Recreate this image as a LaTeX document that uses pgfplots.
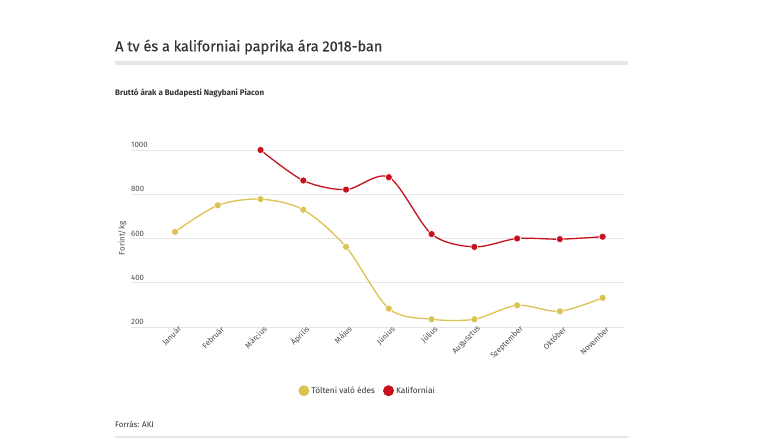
\documentclass[border=0pt]{standalone}
\usepackage{pgfplots}
\pgfplotsset{compat=1.18}
\usepackage{fontspec}
\setmainfont{Fira Sans}
\newfontfamily\titlefont{Fira Sans}[FakeBold=0.4]
\definecolor{yel}{HTML}{DCC250}
\definecolor{red1}{HTML}{C8101E}
\definecolor{txt}{HTML}{333333}
\definecolor{lab}{HTML}{4D4D4D}
\definecolor{rule}{HTML}{E6E6E6}
\begin{document}
\begin{tikzpicture}[x=1pt,y=1pt]
\path[use as bounding box] (0,0) rectangle (760,439);
\fill[white] (0,0) rectangle (760,439);
\node[anchor=west, inner sep=0pt, text=txt, font=\fontsize{14.5}{18}\titlefont] at (115,392) {A tv és a kaliforniai paprika ára 2018-ban};
\draw[rule, line width=4pt] (115,376) -- (628,376);
\node[anchor=west, inner sep=0pt, text=txt, font=\fontsize{8}{10}\selectfont\bfseries] at (115,346) {Bruttó árak a Budapesti Nagybani Piacon};
\node[anchor=west, inner sep=0pt, text=txt, font=\fontsize{8}{10}\selectfont] at (115,15) {Forrás: AKI};
\draw[rule, line width=1.5pt] (115,2) -- (628,2);
\begin{axis}[
  at={(131pt,112pt)}, anchor=south west,
  scale only axis, width=493pt, height=177pt,
  xmin=-1.03, xmax=10.5, ymin=200, ymax=1000,
  axis line style={draw=none},
  ytick={200,400,600,800,1000},
  xtick={0,...,10},
  xticklabels={Január,Február,Március,Április,Május,Június,Július,Augusztus,Szeptember,Október,November},
  ymajorgrids, grid style={rule, line width=0.8pt},
  major tick length=0pt,
  clip=false,
  /pgf/number format/assume math mode=true,
  /pgf/number format/1000 sep={},
  yticklabel style={anchor=south west, inner sep=0pt, yshift=2pt, xshift=0pt, font=\fontsize{7.8}{9}\selectfont, text=lab},
  xticklabel style={rotate=45, anchor=east, inner sep=1pt, xshift=4pt, yshift=-4pt, font=\fontsize{7.8}{9}\selectfont, text=lab},
  ylabel={Forint/kg},
  every axis y label/.style={at={(axis description cs:-0.018,0.5)}, rotate=90, anchor=center, font=\fontsize{8}{10}\selectfont, text=lab},
  legend columns=2,
  legend style={at={(axis description cs:0.48,-0.36)}, anchor=center, draw=none, font=\fontsize{8.3}{10}\selectfont, text=txt, /tikz/every even column/.append style={column sep=6pt}},
  legend image code/.code={\path[draw=none,fill] (3pt,0pt) circle (5.5pt);},
]
\addplot[yel, line width=1.3pt, smooth, tension=0.5, mark=*, mark size=3.5pt, mark options={draw=white, line width=0.5pt, fill=yel}]
 coordinates {(0,630) (1,750) (2,778) (3,730) (4,562) (5,283) (6,235) (7,235) (8,298) (9,271) (10,332)};
\addlegendentry{Tölteni való édes}
\addplot[red1, line width=1.3pt, smooth, tension=0.5, mark=*, mark size=3.5pt, mark options={draw=white, line width=0.5pt, fill=red1}]
 coordinates {(2,1000) (3,862) (4,821) (5,877) (6,620) (7,562) (8,600) (9,597) (10,608)};
\addlegendentry{Kaliforniai}
\end{axis}
\end{tikzpicture}
\end{document}
